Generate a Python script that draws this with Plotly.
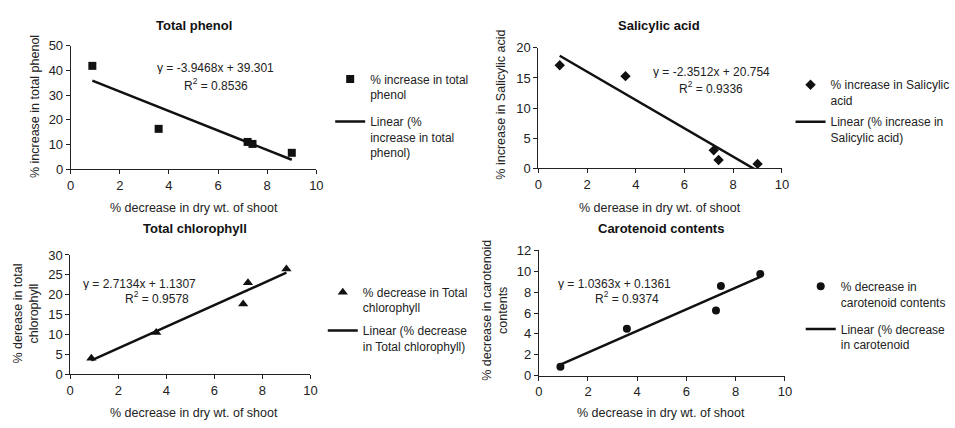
import plotly.graph_objects as go

W, H = 955, 428

# ---------------- data ----------------
x_shoot = [0.88, 3.58, 7.2, 7.4, 9.0]
phenol = [41.8, 16.3, 11.0, 10.2, 6.6]
salicylic = [17.1, 15.3, 3.0, 1.4, 0.75]
chlorophyll = [4.05, 10.5, 17.7, 23.0, 26.5]
carotenoid = [0.85, 4.5, 6.25, 8.6, 9.75]

slopes = [-3.9468, -2.3512, 2.7134, 1.0363]
intercepts = [39.301, 20.754, 1.1307, 0.1361]
r2_values = ["0.8536", "0.9336", "0.9578", "0.9374"]

titles = ["Total phenol", "Salicylic acid", "Total chlorophyll", "Carotenoid contents"]
x_titles = ["% decrease in dry wt. of shoot", "% derease in dry wt. of shoot",
            "% decrease in dry wt. of shoot", "% decrease in dry wt. of shoot"]
y_titles = ["% increase in total phenol", "% increase in Salicylic acid",
            "% derease in total<br>chlorophyll", "% decrease in carotenoid<br>contents"]
marker_names = ["% increase in total<br>phenol", "% increase in Salicylic<br>acid",
                "% decrease in Total<br>chlorophyll", "% decrease in<br>carotenoid contents"]
line_names = ["Linear (%<br>increase in total<br>phenol)", "Linear (% increase in<br>Salicylic acid)",
              "Linear (% decrease<br>in Total chlorophyll)", "Linear (% decrease<br>in carotenoid"]
y_ranges = [[0, 50], [0, 20], [0, 30], [0, 12]]
y_dticks = [10, 5, 5, 2]
symbols = ["square", "diamond", "triangle-up", "circle"]
sizes = [8, 8, 9, 8]
series = [phenol, salicylic, chlorophyll, carotenoid]

# ---------------- layout helpers (pixel -> paper) ----------------
def X(px):
    return px / W

def Y(py):
    return 1 - py / H

# plot areas: (left, right, top, bottom) in px
areas = [(67.5, 316, 40, 168), (540.5, 787, 42.3, 167.3),
         (67, 310, 257, 380.7), (541, 790, 252.3, 382)]
title_pos = [(192, 19), (663, 19), (193, 230), (665, 230)]
xtitle_pos = [(192, 208), (664, 208.3), (192, 420.7), (665, 420.7)]
ytitle_pos = [(32, 103), (503, 101), (22, 318), (496.5, 314)]
eq_pos = [(214, 63, 214, 80), (715.7, 66.7, 715, 83.3),
          (136.7, 286.7, 155, 301), (618, 286.7, 630, 301)]
legend_pos = [(330, 59.7), (795.7, 65.7), (322.5, 280.7), (806, 274.7)]
legend_gaps = [8.5, 2.8, 4.1, 8.5]

FONT = "Arial, Liberation Sans, sans-serif"

fig = go.Figure()
annotations = []

for i in range(4):
    sfx = "" if i == 0 else str(i + 1)
    lg = "legend" if i == 0 else "legend" + str(i + 1)
    xs = x_shoot
    ys = series[i]
    fig.add_trace(go.Scatter(
        x=xs, y=ys, mode="markers", name=marker_names[i],
        marker=dict(symbol=symbols[i], size=sizes[i], color="#111111"),
        xaxis="x" + sfx, yaxis="y" + sfx, legend=lg, legendgroup="m%d" % i,
        cliponaxis=False))
    x0, x1 = min(xs), max(xs)
    fig.add_trace(go.Scatter(
        x=[x0, x1], y=[slopes[i] * x0 + intercepts[i], slopes[i] * x1 + intercepts[i]],
        mode="lines", name=line_names[i],
        line=dict(color="#111111", width=2.5),
        xaxis="x" + sfx, yaxis="y" + sfx, legend=lg, legendgroup="l%d" % i))

    l, r, t, b = areas[i]
    axis_common = dict(showline=True, linecolor="#222222", linewidth=1,
                       ticks="outside", ticklen=4, tickcolor="#222222",
                       showgrid=False, zeroline=False,
                       tickfont=dict(family=FONT, size=13, color="#222222"))
    fig.update_layout(**{
        "xaxis" + sfx: dict(domain=[X(l), X(r)], range=[0, 10], dtick=2,
                            anchor="y" + sfx, **axis_common),
        "yaxis" + sfx: dict(domain=[Y(b), Y(t)], range=y_ranges[i], dtick=y_dticks[i],
                            anchor="x" + sfx, **axis_common),
        lg: dict(x=X(legend_pos[i][0]), y=Y(legend_pos[i][1]), xanchor="left", yanchor="top",
                 xref="paper", yref="paper", valign="top", bgcolor="rgba(0,0,0,0)",
                 traceorder="grouped", tracegroupgap=legend_gaps[i],
                 font=dict(family=FONT, size=12, color="#222222")),
    })

    tx, ty = title_pos[i]
    annotations.append(dict(x=X(tx), y=Y(ty), xref="paper", yref="paper", text="<b>" + titles[i] + "</b>",
                            showarrow=False, font=dict(family=FONT, size=13, color="#111111"),
                            xanchor="center", yanchor="middle"))
    ax_, ay_ = xtitle_pos[i]
    annotations.append(dict(x=X(ax_), y=Y(ay_), xref="paper", yref="paper", text=x_titles[i],
                            showarrow=False, font=dict(family=FONT, size=12.5, color="#222222"),
                            xanchor="center", yanchor="middle"))
    bx, by = ytitle_pos[i]
    annotations.append(dict(x=X(bx), y=Y(by), xref="paper", yref="paper", text=y_titles[i],
                            showarrow=False, textangle=-90,
                            font=dict(family=FONT, size=12.5, color="#222222"),
                            xanchor="center", yanchor="middle"))
    ex, ey, rx, ry = eq_pos[i]
    sign = "+" if intercepts[i] >= 0 else "-"
    eq_text = "y = %gx %s %g" % (slopes[i], sign, abs(intercepts[i]))
    annotations.append(dict(x=X(ex), y=Y(ey), xref="paper", yref="paper", text=eq_text,
                            showarrow=False, font=dict(family=FONT, size=12, color="#222222"),
                            xanchor="center", yanchor="middle", height=13, borderpad=0))
    annotations.append(dict(x=X(rx), y=Y(ry), xref="paper", yref="paper",
                            text="R<sup>2</sup> = " + r2_values[i],
                            showarrow=False, font=dict(family=FONT, size=12, color="#222222"),
                            xanchor="center", yanchor="middle", height=13, borderpad=0))

fig.update_layout(
    width=W, height=H, margin=dict(l=0, r=0, t=0, b=0),
    paper_bgcolor="white", plot_bgcolor="white",
    annotations=annotations, showlegend=True,
)

fig.write_html("out.html", config={"displayModeBar": False},
               post_script="document.body.style.margin='0';document.body.style.padding='0';")
